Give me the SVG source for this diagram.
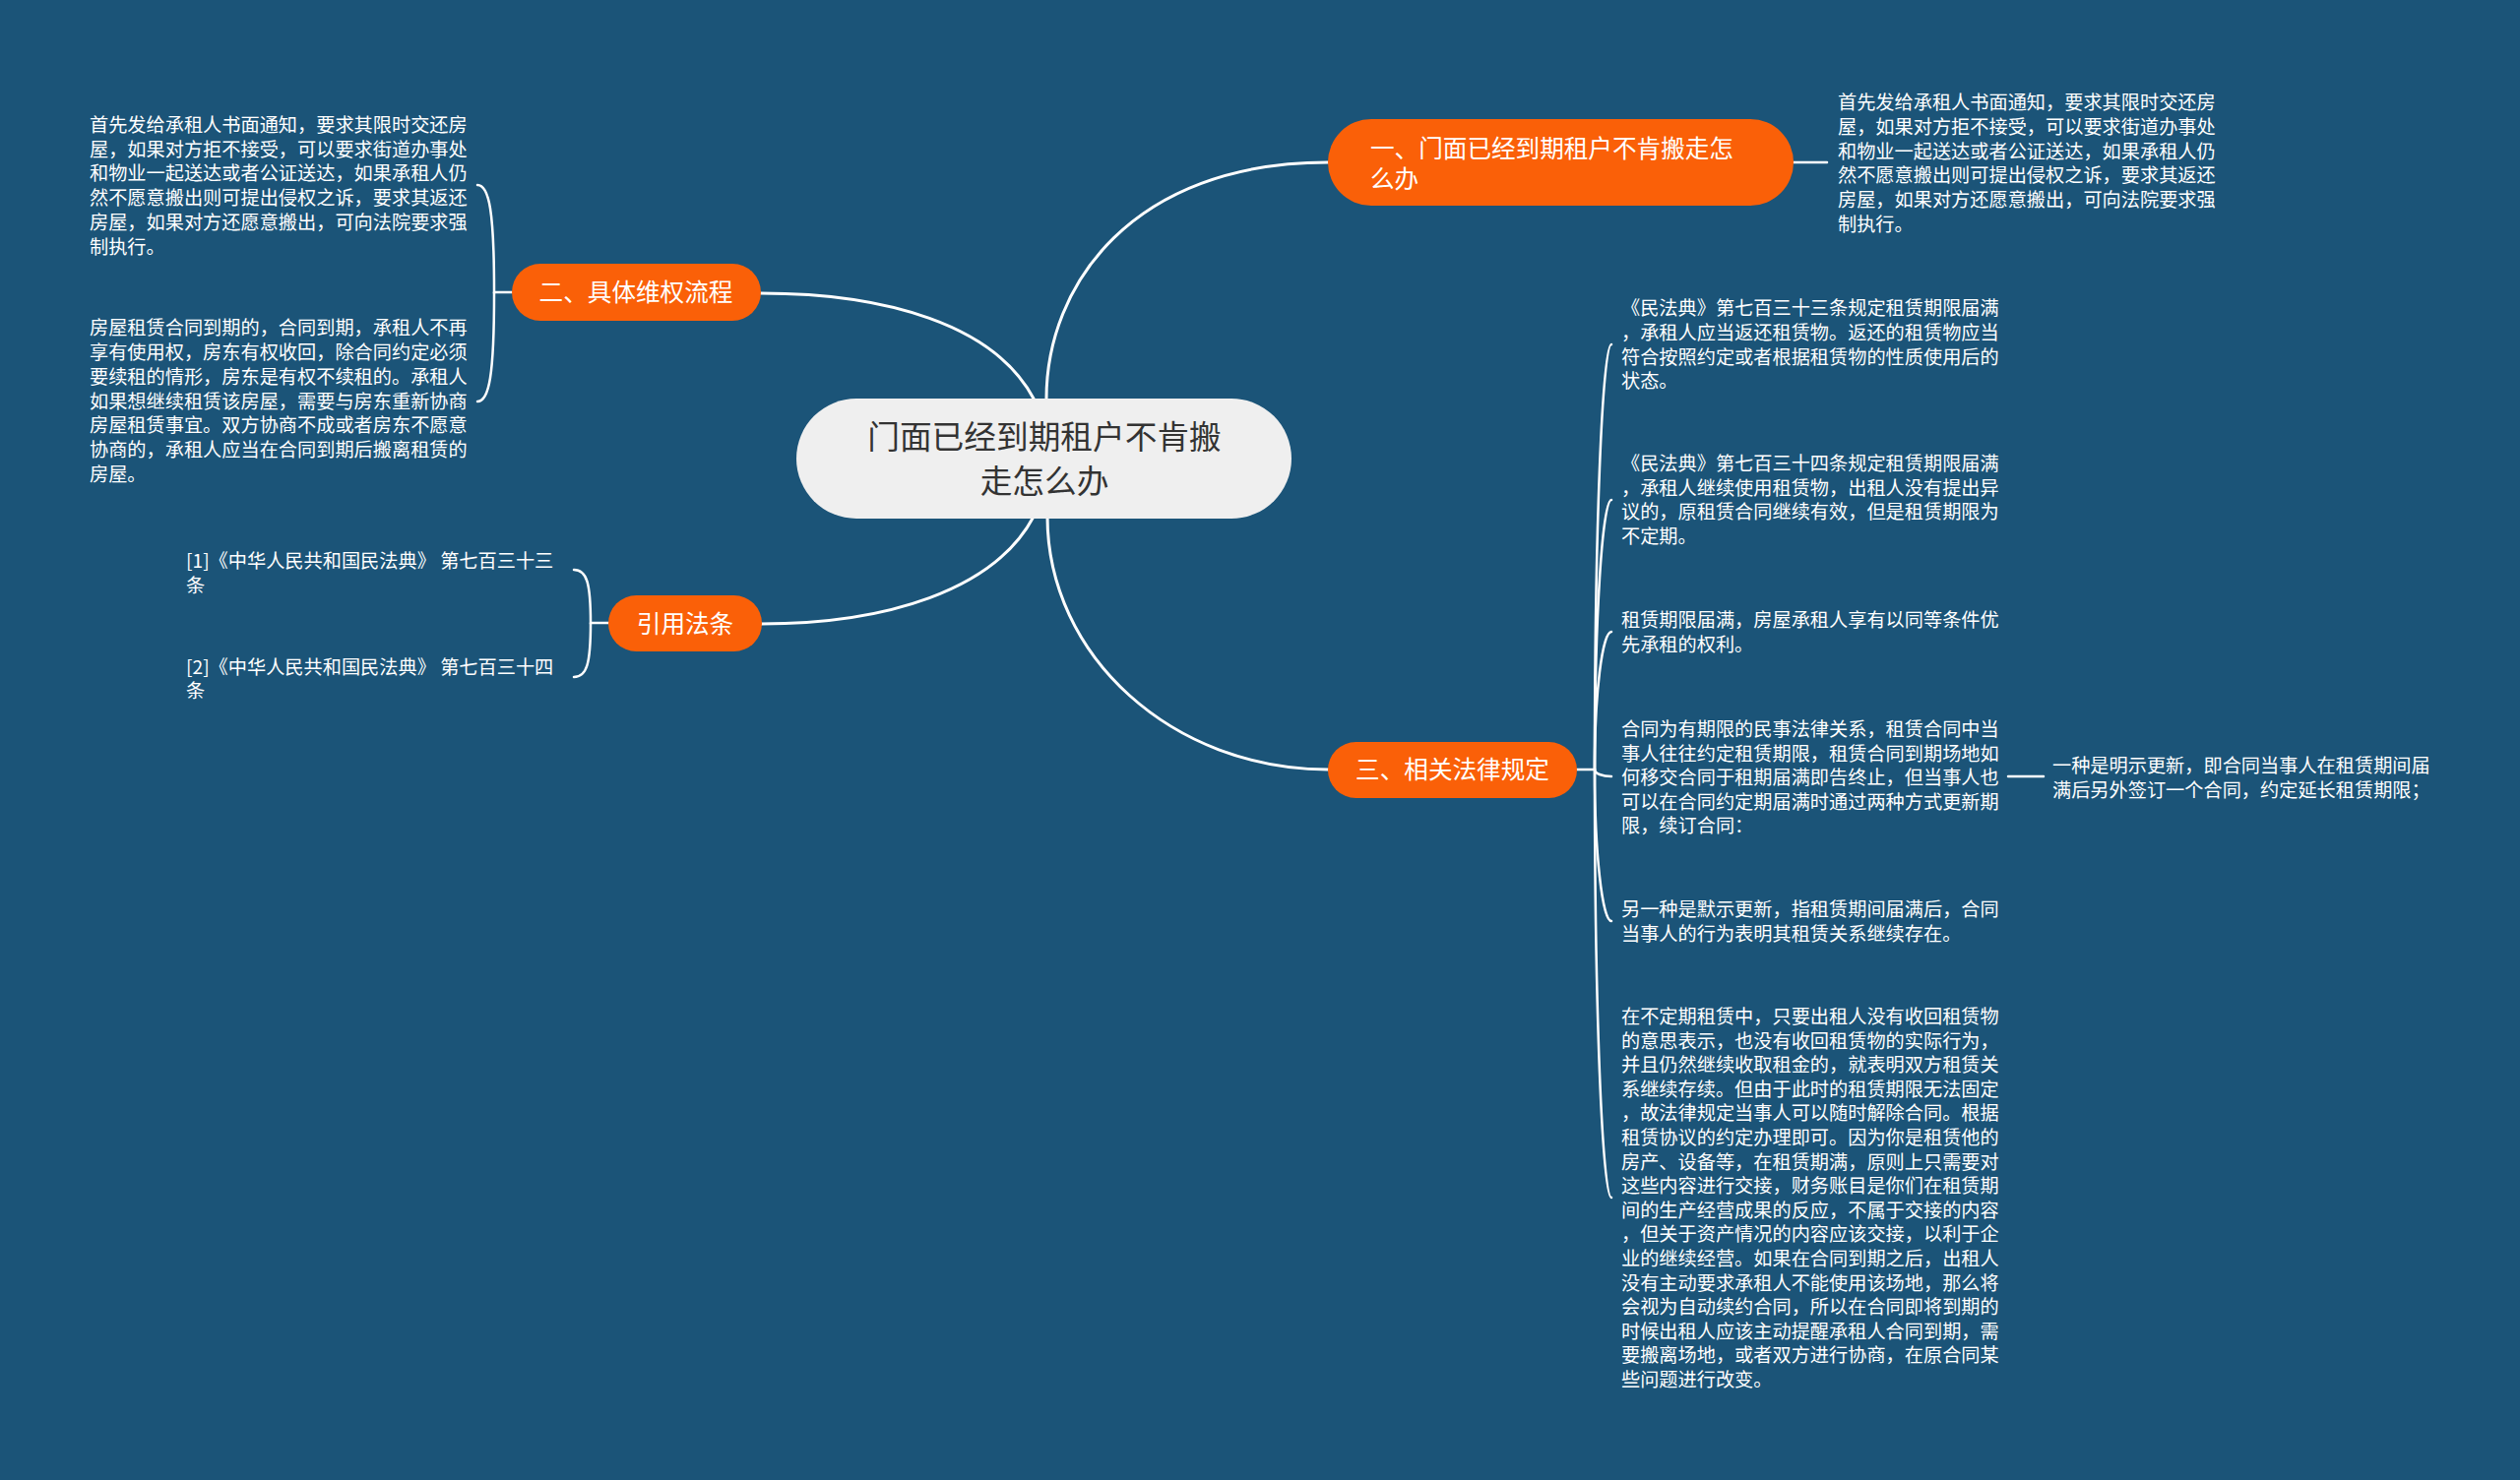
<svg xmlns="http://www.w3.org/2000/svg" width="2560" height="1504" viewBox="0 0 2560 1504">
<style>
.bg{fill:#1b5478}
.main{fill:none;stroke:#ffffff;stroke-width:3;stroke-linecap:round}
.sub{fill:none;stroke:#ffffff;stroke-width:2.5;stroke-linecap:round}
.topic{fill:#fa6008}
.center{fill:#efefef}
.ct{font-family:"Noto Sans CJK SC","Noto Sans",sans-serif;font-size:32.7px;fill:#333333}
.tt{font-family:"Noto Sans CJK SC","Noto Sans",sans-serif;font-size:24.6px;fill:#ffffff}
.lt{font-family:"Noto Sans CJK SC","Noto Sans",sans-serif;font-size:19.2px;fill:#ffffff}
</style>
<rect class="bg" x="0" y="0" width="2560" height="1504"/>
<g id="connectors">
  <path class="main" d="M1063 405 C1063 290 1150 165 1349 165"/>
  <path class="main" d="M1050 405 C1010 330 900 298 773 298"/>
  <path class="main" d="M1050 525 C1010 600 900 634 773 634"/>
  <path class="main" d="M1064 525 C1064 667 1191.6 782 1349 782"/>
  <path class="sub" d="M1822 165 L1856 165"/>
  <path class="sub" d="M520 297 L502 297 C502 215 497 188 485 188"/>
  <path class="sub" d="M502 297 C502 381 497 408 485 408"/>
  <path class="sub" d="M618 633 L600 633 C600 592 596 579 583 579"/>
  <path class="sub" d="M600 633 C600 675 596 688 583 688"/>
  <path class="sub" d="M1602 782 L1620 782"/>
  <path class="sub" d="M1620 782 C1620 543 1627.6 350 1637 350"/>
  <path class="sub" d="M1620 782 C1620 631 1627.6 508 1637 508"/>
  <path class="sub" d="M1620 782 C1620 705 1627.6 642 1637 642"/>
  <path class="sub" d="M1620 782 C1620 786 1627.6 789 1637 789"/>
  <path class="sub" d="M1620 782 C1620 866 1627.6 936 1637 936"/>
  <path class="sub" d="M1620 782 C1620 1022 1627.6 1217 1637 1217"/>
  <path class="sub" d="M2040 789 L2076 789"/>
</g>
<g id="center">
  <rect class="center" x="809" y="405" width="503" height="122" rx="61" ry="61"/>
  <text class="ct" text-anchor="middle"><tspan x="1061" y="456">门面已经到期租户不肯搬</tspan><tspan x="1061" y="501">走怎么办</tspan></text>
</g>
<g id="node-1">
  <rect class="topic" x="1349" y="121" width="473" height="88" rx="44" ry="44"/>
  <text class="tt"><tspan x="1392" y="159.5">一、门面已经到期租户不肯搬走怎</tspan><tspan x="1392" y="190.8">么办</tspan></text>
</g>
<g id="leaf-1-1">
  <text class="lt"><tspan x="1867" y="111">首先发给承租人书面通知，要求其限时交还房</tspan><tspan x="1867" dy="24.8">屋，如果对方拒不接受，可以要求街道办事处</tspan><tspan x="1867" dy="24.8">和物业一起送达或者公证送达，如果承租人仍</tspan><tspan x="1867" dy="24.8">然不愿意搬出则可提出侵权之诉，要求其返还</tspan><tspan x="1867" dy="24.8">房屋，如果对方还愿意搬出，可向法院要求强</tspan><tspan x="1867" dy="24.8">制执行。</tspan></text>
</g>
<g id="node-2">
  <rect class="topic" x="520" y="268" width="253" height="58" rx="29" ry="29"/>
  <text class="tt" text-anchor="middle" x="646" y="306.3">二、具体维权流程</text>
</g>
<g id="leaf-2-1">
  <text class="lt"><tspan x="91" y="134">首先发给承租人书面通知，要求其限时交还房</tspan><tspan x="91" dy="24.7">屋，如果对方拒不接受，可以要求街道办事处</tspan><tspan x="91" dy="24.7">和物业一起送达或者公证送达，如果承租人仍</tspan><tspan x="91" dy="24.7">然不愿意搬出则可提出侵权之诉，要求其返还</tspan><tspan x="91" dy="24.7">房屋，如果对方还愿意搬出，可向法院要求强</tspan><tspan x="91" dy="24.7">制执行。</tspan></text>
</g>
<g id="leaf-2-2">
  <text class="lt"><tspan x="91" y="340.2">房屋租赁合同到期的，合同到期，承租人不再</tspan><tspan x="91" dy="24.8">享有使用权，房东有权收回，除合同约定必须</tspan><tspan x="91" dy="24.8">要续租的情形，房东是有权不续租的。承租人</tspan><tspan x="91" dy="24.8">如果想继续租赁该房屋，需要与房东重新协商</tspan><tspan x="91" dy="24.8">房屋租赁事宜。双方协商不成或者房东不愿意</tspan><tspan x="91" dy="24.8">协商的，承租人应当在合同到期后搬离租赁的</tspan><tspan x="91" dy="24.8">房屋。</tspan></text>
</g>
<g id="node-cite">
  <rect class="topic" x="618" y="605" width="156" height="57" rx="28.5" ry="28.5"/>
  <text class="tt" text-anchor="middle" x="696" y="642.8">引用法条</text>
</g>
<g id="leaf-cite-1">
  <text class="lt"><tspan x="189" y="577">[1]《中华人民共和国民法典》 第七百三十三</tspan><tspan x="189" dy="24.6">条</tspan></text>
</g>
<g id="leaf-cite-2">
  <text class="lt"><tspan x="189" y="684.5">[2]《中华人民共和国民法典》 第七百三十四</tspan><tspan x="189" dy="24.6">条</tspan></text>
</g>
<g id="node-3">
  <rect class="topic" x="1349" y="754" width="253" height="57" rx="28.5" ry="28.5"/>
  <text class="tt" text-anchor="middle" x="1475.5" y="791.3">三、相关法律规定</text>
</g>
<g id="leaf-3-1">
  <text class="lt"><tspan x="1647" y="320.2">《民法典》第七百三十三条规定租赁期限届满</tspan><tspan x="1647" dy="24.7">，承租人应当返还租赁物。返还的租赁物应当</tspan><tspan x="1647" dy="24.7">符合按照约定或者根据租赁物的性质使用后的</tspan><tspan x="1647" dy="24.7">状态。</tspan></text>
</g>
<g id="leaf-3-2">
  <text class="lt"><tspan x="1647" y="478">《民法典》第七百三十四条规定租赁期限届满</tspan><tspan x="1647" dy="24.7">，承租人继续使用租赁物，出租人没有提出异</tspan><tspan x="1647" dy="24.7">议的，原租赁合同继续有效，但是租赁期限为</tspan><tspan x="1647" dy="24.7">不定期。</tspan></text>
</g>
<g id="leaf-3-3">
  <text class="lt"><tspan x="1647" y="637">租赁期限届满，房屋承租人享有以同等条件优</tspan><tspan x="1647" dy="24.7">先承租的权利。</tspan></text>
</g>
<g id="leaf-3-4">
  <text class="lt"><tspan x="1647" y="748">合同为有期限的民事法律关系，租赁合同中当</tspan><tspan x="1647" dy="24.6">事人往往约定租赁期限，租赁合同到期场地如</tspan><tspan x="1647" dy="24.6">何移交合同于租期届满即告终止，但当事人也</tspan><tspan x="1647" dy="24.6">可以在合同约定期届满时通过两种方式更新期</tspan><tspan x="1647" dy="24.6">限，续订合同：</tspan></text>
</g>
<g id="leaf-3-4-1">
  <text class="lt"><tspan x="2085" y="785">一种是明示更新，即合同当事人在租赁期间届</tspan><tspan x="2085" dy="24.6">满后另外签订一个合同，约定延长租赁期限；</tspan></text>
</g>
<g id="leaf-3-5">
  <text class="lt"><tspan x="1647" y="931">另一种是默示更新，指租赁期间届满后，合同</tspan><tspan x="1647" dy="24.6">当事人的行为表明其租赁关系继续存在。</tspan></text>
</g>
<g id="leaf-3-6">
  <text class="lt"><tspan x="1647" y="1040">在不定期租赁中，只要出租人没有收回租赁物</tspan><tspan x="1647" dy="24.6">的意思表示，也没有收回租赁物的实际行为，</tspan><tspan x="1647" dy="24.6">并且仍然继续收取租金的，就表明双方租赁关</tspan><tspan x="1647" dy="24.6">系继续存续。但由于此时的租赁期限无法固定</tspan><tspan x="1647" dy="24.6">，故法律规定当事人可以随时解除合同。根据</tspan><tspan x="1647" dy="24.6">租赁协议的约定办理即可。因为你是租赁他的</tspan><tspan x="1647" dy="24.6">房产、设备等，在租赁期满，原则上只需要对</tspan><tspan x="1647" dy="24.6">这些内容进行交接，财务账目是你们在租赁期</tspan><tspan x="1647" dy="24.6">间的生产经营成果的反应，不属于交接的内容</tspan><tspan x="1647" dy="24.6">，但关于资产情况的内容应该交接，以利于企</tspan><tspan x="1647" dy="24.6">业的继续经营。如果在合同到期之后，出租人</tspan><tspan x="1647" dy="24.6">没有主动要求承租人不能使用该场地，那么将</tspan><tspan x="1647" dy="24.6">会视为自动续约合同，所以在合同即将到期的</tspan><tspan x="1647" dy="24.6">时候出租人应该主动提醒承租人合同到期，需</tspan><tspan x="1647" dy="24.6">要搬离场地，或者双方进行协商，在原合同某</tspan><tspan x="1647" dy="24.6">些问题进行改变。</tspan></text>
</g>
</svg>
